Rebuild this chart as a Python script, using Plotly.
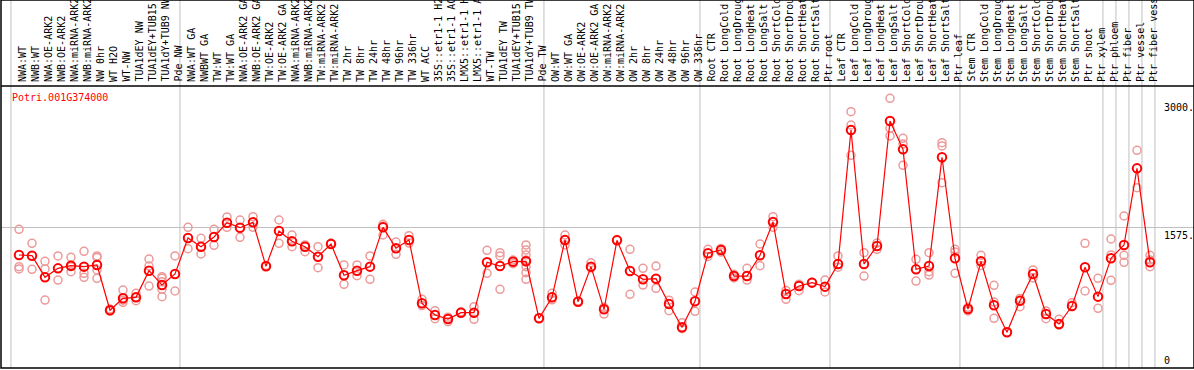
import plotly.graph_objects as go

title = "Potri.001G374000"

categories = [
    "NWA:WT", "NWB:WT", "NWA:OE-ARK2", "NWB:OE-ARK2", "NWA:miRNA-ARK2", "NWB:miRNA-ARK2",
    "NW 0hr", "WT H2O", "WT-NW", "TUA1dEY NW", "TUA1dEY+TUB15 NW", "TUA1dY+TUB9 NW", "Pde NW",
    "NWA:WT GA", "NWBWT GA", "TW:WT", "TW:WT GA", "NWA:OE-ARK2 GA", "NWB:OE-ARK2 GA",
    "TW:OE-ARK2", "TW:OE-ARK2 GA", "NWA:miRNA-ARK2 GA", "NWB:miRNA-ARK2 GA", "TW:miRNA-ARK2",
    "TW:miRNA-ARK2 GA", "TW 2hr", "TW 8hr", "TW 24hr", "TW 48hr", "TW 96hr", "TW 336hr",
    "WT ACC", "35S::etr1-1 H2O", "35S::etr1-1 ACC", "LMX5::etr1-1 H2O", "LMX5::etr1-1 ACC",
    "WT-TW", "TUA1dEY TW", "TUA1dEY+TUB15 TW", "TUA1dY+TUB9 TW", "Pde TW",
    "OW:WT", "OW:WT GA", "OW:OE-ARK2", "OW:OE-ARK2 GA", "OW:miRNA-ARK2", "OW:miRNA-ARK2 GA",
    "OW 2hr", "OW 8hr", "OW 24hr", "OW 48hr", "OW 96hr", "OW 336hr",
    "Root CTR", "Root LongCold", "Root LongDrought", "Root LongHeat", "Root LongSalt",
    "Root ShortCold", "Root ShortDrought", "Root ShortHeat", "Root ShortSalt", "Ptr root",
    "Leaf CTR", "Leaf LongCold", "Leaf LongDrought", "Leaf LongHeat", "Leaf LongSalt",
    "Leaf ShortCold", "Leaf ShortDrought", "Leaf ShortHeat", "Leaf ShortSalt", "Ptr leaf",
    "Stem CTR", "Stem LongCold", "Stem LongDrought", "Stem LongHeat", "Stem LongSalt",
    "Stem ShortCold", "Stem ShortDrought", "Stem ShortHeat", "Stem ShortSalt", "Ptr shoot",
    "Ptr xylem", "Ptr phloem", "Ptr fiber", "Ptr vessel", "Ptr fiber vessel",
]

means = [
    1267, 1259, 1017, 1117, 1147, 1136, 1155, 647, 781, 792,
    1091, 930, 1054, 1457, 1360, 1469, 1629, 1573, 1633, 1140,
    1536, 1420, 1360, 1248, 1390, 1039, 1091, 1136, 1577, 1342,
    1435, 725, 594, 549, 620, 620, 1185, 1143, 1192, 1196,
    557, 792, 1435, 743, 1136, 658, 1431, 1087, 994, 1001,
    717, 456, 748, 1286, 1323, 1031, 1031, 1263, 1637, 830,
    919, 957, 912, 1166, 2668, 1166, 1368, 2769, 2451, 1106,
    1143, 2362, 1230, 661, 1196, 703, 400, 754, 1054, 605,
    493, 695, 1129, 800, 1230, 1379, 2238, 1185,
]

replicates = [
    [1555, 1136, 1110], [1398, 1106], [1196, 1110, 762], [1256, 986], [1241, 1080, 1136],
    [1308, 1061, 1017], [1256, 1239, 1099, 1005], [640, 660], [874, 736, 760], [837, 754, 790],
    [1222, 1143, 919], [1024, 1005, 968, 882, 800], [1256, 863], [1577, 1337], [1454, 1278],
    [1555, 1375], [1693, 1577], [1659, 1465], [1696, 1577], [1150],
    [1659, 1398], [1491, 1360], [1380, 1304], [1360, 1125], [1400],
    [1155, 938], [1155, 1035], [1256, 994], [1611, 1491, 1590], [1412, 1274],
    [1483, 1400], [770, 700], [642, 553], [570, 519], [630],
    [687, 546], [1319, 1061], [1293, 1256, 882], [1210, 1170],
    [1379, 1323, 1267, 1211, 1136, 1069, 994],
    [560], [837, 764], [1491, 1379], [750], [1180, 1120],
    [680, 605], [1440], [1330, 826], [1117, 930], [1143, 893],
    [760, 642], [508, 440], [852, 635], [1330, 1250], [1340, 1300],
    [1050, 1010], [1117, 986], [1390, 1147], [1696, 1577], [870, 770],
    [940, 867], [960], [986, 852], [1256, 1130], [2873, 2724, 2384],
    [1293, 1031], [1400, 1330], [3023, 2687, 2601], [2575, 2511, 2272], [1218, 975],
    [1293, 1080, 1042], [2526, 2489, 2077], [1330, 1300, 1061], [680, 640], [1263, 1150],
    [927, 740, 557], [400], [780, 687], [1099, 1010], [640, 553],
    [546, 480], [732], [1398, 863], [1005, 669], [1446, 1267, 983],
    [1704, 1263, 1185], [2440, 2021], [1263, 1211, 1136],
]

# first category of each group (a separator is drawn before it), plus end
group_starts = [0, 13, 41, 53, 63, 73, 84, 85, 86, 87, 88]

y_max = 3150
axis_labels = [(3000, "3000."), (1575, "1575."), (0, "0")]

W, H = 1194, 370
ML, MR, MT, MB = 1, 0, 0, 2
plot_h = H - MT - MB
data_top_px = 87
header_line_px = 86
label_bottom_px = 84

x_idx = list(range(len(categories)))
rep_x, rep_y = [], []
for i, reps in enumerate(replicates):
    for v in reps:
        rep_x.append(i)
        rep_y.append(v)

fig = go.Figure()
fig.add_trace(go.Scatter(
    x=rep_x, y=rep_y, mode="markers",
    marker=dict(symbol="circle-open", size=8, color="#ec9a9a", line=dict(width=1.5, color="#ec9a9a")),
    hoverinfo="skip", showlegend=False,
))
fig.add_trace(go.Scatter(
    x=x_idx, y=means, mode="lines+markers",
    line=dict(color="#ff0000", width=1.2),
    marker=dict(symbol="circle-open", size=8.5, color="#ff0000", line=dict(width=2, color="#ff0000")),
    showlegend=False,
))

# x range so that category i sits at 19 + 13*i px
px0 = 19
step = 13
x_lo = (ML - px0) / step
x_hi = (W - MR - px0) / step

shapes = []
for g in group_starts:
    shapes.append(dict(type="line", xref="x", yref="paper", x0=g - 0.62, x1=g - 0.62, y0=0, y1=1,
                       line=dict(color="#c0c0c0", width=1), layer="below"))
shapes.append(dict(type="line", xref="paper", yref="y", x0=0, x1=1, y0=1575, y1=1575,
                   line=dict(color="#c0c0c0", width=1), layer="below"))
hy = (plot_h - header_line_px) / plot_h
shapes.append(dict(type="line", xref="paper", yref="paper", x0=0, x1=1, y0=hy, y1=hy,
                   line=dict(color="black", width=1.5)))
shapes.append(dict(type="rect", xref="paper", yref="paper", x0=0, x1=1, y0=0, y1=1,
                   line=dict(color="black", width=1.5)))

font = "DejaVu Sans Mono"
annotations = []
lb = (plot_h - label_bottom_px) / plot_h
for i, c in enumerate(categories):
    annotations.append(dict(x=i, y=lb, xref="x", yref="paper", text=c, textangle=-90,
                            showarrow=False, xanchor="center", yanchor="bottom", xshift=3,
                            font=dict(family=font, size=10, color="black")))
annotations.append(dict(x=(10 - ML) / (W - ML - MR), y=(plot_h - 97) / plot_h, xref="paper", yref="paper",
                        text=title, showarrow=False, xanchor="left", yanchor="middle",
                        font=dict(family=font, size=10, color="#ff0000")))
lx = (1162 - ML) / (W - ML - MR)
for v, t in axis_labels:
    annotations.append(dict(x=lx, y=v, xref="paper", yref="y", text=t, showarrow=False,
                            xanchor="left", yanchor="bottom" if v == 0 else "top",
                            font=dict(family=font, size=10, color="black")))

fig.update_layout(
    width=W, height=H, autosize=False,
    margin=dict(l=ML, r=MR, t=MT, b=MB, pad=0),
    paper_bgcolor="white", plot_bgcolor="white",
    xaxis=dict(range=[x_lo, x_hi], showgrid=False, zeroline=False, showticklabels=False,
               ticks="", showline=False, fixedrange=True),
    yaxis=dict(range=[0, y_max], domain=[0, (plot_h - data_top_px) / plot_h], showgrid=False,
               zeroline=False, showticklabels=False, ticks="", showline=False, fixedrange=True),
    shapes=shapes, annotations=annotations,
)

fig.write_html(
    "out.html",
    config={"displayModeBar": False},
    post_script="document.body.style.margin='0';document.body.style.overflow='hidden';",
)
